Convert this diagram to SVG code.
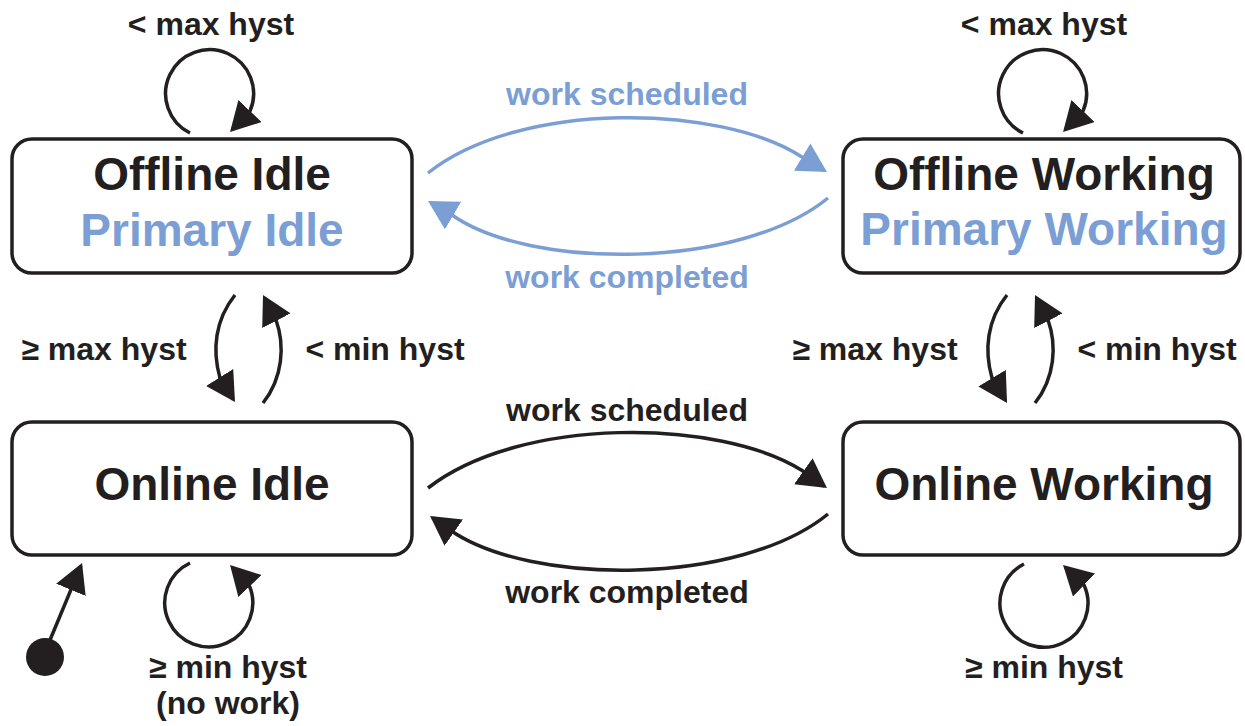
<svg xmlns="http://www.w3.org/2000/svg" width="1245" height="726" viewBox="0 0 1245 726">
<style>
.box{fill:#fff;stroke:#231f20;stroke-width:3.5}
.t{font-family:"Liberation Sans",Arial,sans-serif;font-weight:bold;text-anchor:middle}
.nt{font-size:46px}
.lb{font-size:32px}
.k{fill:#231f20}
.b{fill:#7b9fd4}
.ck{fill:none;stroke:#231f20;stroke-width:3.5}
.cb{fill:none;stroke:#7b9fd4;stroke-width:3.5}
</style>
<defs>
<marker id="ak" viewBox="0 0 29 32" markerWidth="29" markerHeight="32" markerUnits="userSpaceOnUse" refX="26" refY="16" orient="auto"><path d="M0,0 L29,16 L0,32 Z" fill="#231f20"/></marker>
<marker id="ab" viewBox="0 0 29 32" markerWidth="29" markerHeight="32" markerUnits="userSpaceOnUse" refX="26" refY="16" orient="auto"><path d="M0,0 L29,16 L0,32 Z" fill="#7b9fd4"/></marker>
</defs>
<g id="offline-idle">
<rect class="box" x="12" y="139" width="400" height="134" rx="20"/>
<text class="t nt k" x="212" y="190">Offline Idle</text>
<text class="t nt b" x="212" y="246">Primary Idle</text>
</g>
<g id="offline-working">
<rect class="box" x="843" y="139" width="397" height="134" rx="20"/>
<text class="t nt k" x="1044" y="190">Offline Working</text>
<text class="t nt b" x="1044" y="245">Primary Working</text>
</g>
<g id="online-idle">
<rect class="box" x="12" y="422" width="400" height="133" rx="20"/>
<text class="t nt k" x="212" y="500">Online Idle</text>
</g>
<g id="online-working">
<rect class="box" x="843" y="422" width="397" height="133" rx="20"/>
<text class="t nt k" x="1044" y="500">Online Working</text>
</g>
<g id="initial">
<circle cx="45" cy="657" r="19" fill="#231f20"/>
</g>
<g id="connectors">
<path class="ck" d="M190,133 A44,44 0 1 1 250,111 L232.1,129.8" marker-end="url(#ak)"/>
<path class="ck" d="M1023,133 A44,44 0 1 1 1083,111 L1065.1,129.8" marker-end="url(#ak)"/>
<path class="ck" d="M190,563 A44,44 0 1 0 249,585 L232.1,567.2" marker-end="url(#ak)"/>
<path class="ck" d="M1024,564 A44,44 0 1 0 1084,585 L1065.2,567.1" marker-end="url(#ak)"/>
<path class="cb" d="M428,173 C520,100 720,104 802,157 L824.4,170.5" marker-end="url(#ab)"/>
<path class="cb" d="M828,198 C740,270 530,270 452,215 L430.6,202.5" marker-end="url(#ab)"/>
<path class="ck" d="M428,488 C520,416 720,418 803,471 L824.5,486.3" marker-end="url(#ak)"/>
<path class="ck" d="M828,514 C740,586 530,586 450,530 L432.5,517.7" marker-end="url(#ak)"/>
<path class="ck" d="M235,295 C215,320 212,350 220,378 L233.4,399.5" marker-end="url(#ak)"/>
<path class="ck" d="M263,403 C283,378 285,345 276,320 L264.4,297.7" marker-end="url(#ak)"/>
<path class="ck" d="M1007,295 C987,320 984,350 992,378 L1005.5,400.4" marker-end="url(#ak)"/>
<path class="ck" d="M1035,403 C1055,378 1057,345 1048,320 L1036.4,297.7" marker-end="url(#ak)"/>
<path class="ck" d="M50,640 L80.9,565.8" marker-end="url(#ak)"/>
</g>
<g id="labels">
<text class="t lb k" x="211" y="35">&lt; max hyst</text>
<text class="t lb k" x="1044" y="35">&lt; max hyst</text>
<text class="t lb b" x="627" y="105">work scheduled</text>
<text class="t lb b" x="627" y="288">work completed</text>
<text class="t lb k" x="104" y="360">≥ max hyst</text>
<text class="t lb k" x="385" y="360">&lt; min hyst</text>
<text class="t lb k" x="875" y="360">≥ max hyst</text>
<text class="t lb k" x="1157" y="360">&lt; min hyst</text>
<text class="t lb k" x="627" y="421">work scheduled</text>
<text class="t lb k" x="627" y="603">work completed</text>
<text class="t lb k" x="228" y="678">≥ min hyst</text>
<text class="t lb k" x="228" y="714">(no work)</text>
<text class="t lb k" x="1044" y="678">≥ min hyst</text>
</g>
</svg>
